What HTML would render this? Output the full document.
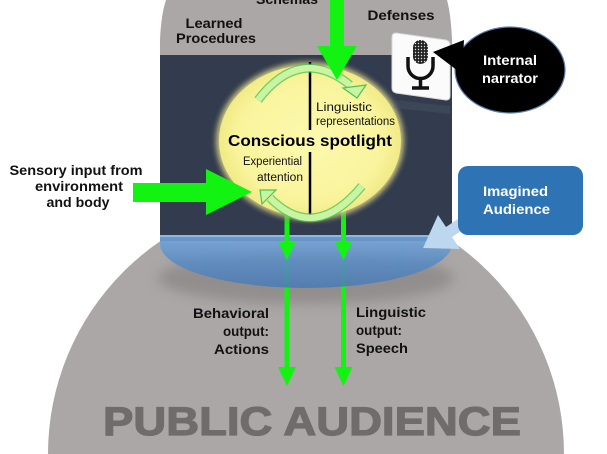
<!DOCTYPE html>
<html><head><meta charset="utf-8"><style>
html,body{margin:0;padding:0;background:#fff;width:607px;height:454px;overflow:hidden}
svg{display:block;overflow:hidden}
text{font-family:"Liberation Sans",Arial,sans-serif}
</style></head><body>
<svg width="607" height="454" viewBox="0 0 607 454" xmlns="http://www.w3.org/2000/svg">
<defs>
<filter id="blur6" x="-10%" y="-30%" width="120%" height="160%"><feGaussianBlur stdDeviation="6"/></filter>
<filter id="blur3" x="-10%" y="-10%" width="120%" height="120%"><feGaussianBlur stdDeviation="3"/></filter>
<linearGradient id="blueg" x1="0" y1="0" x2="0" y2="1">
<stop offset="0" stop-color="#74a6da"/><stop offset="0.5" stop-color="#5a8cc4"/><stop offset="1" stop-color="#4a7bb2"/>
</linearGradient>
<radialGradient id="yel" cx="0.5" cy="0.5" r="0.5">
<stop offset="0" stop-color="#fcf9ae"/><stop offset="0.8" stop-color="#f9f49c"/><stop offset="1" stop-color="#f1ea86"/>
</radialGradient>
<pattern id="dots" width="3" height="3" patternUnits="userSpaceOnUse"><rect width="3" height="3" fill="#222"/><circle cx="1.5" cy="1.5" r="0.7" fill="#ddd"/></pattern>
</defs>

<!-- big public audience circle (clipped at frame bottom) -->
<path d="M48,454 A258,258 0 0 1 564,454 Z" fill="#aba7a6"/>
<!-- shadow under cylinder -->
<ellipse cx="306" cy="278" rx="148" ry="26" fill="#7a7675" opacity="0.5" filter="url(#blur6)"/>

<!-- top gray head -->
<path d="M160,56 L160,40 Q161,15 166,0 L447,0 Q451,15 452,40 L452,56 Z" fill="#aba7a6"/>

<!-- dark navy body -->
<rect x="160" y="55" width="292" height="186" fill="#333c4e"/>

<!-- down arrow shafts (full) -->
<rect x="284.5" y="200" width="5" height="170" fill="#12f312"/>
<rect x="341" y="200" width="5" height="170" fill="#12f312"/>

<!-- blue bottom -->
<path d="M160,236 L452,236 L452,244 A146,44 0 0 1 160,244 Z" fill="url(#blueg)" opacity="0.88"/>
<path d="M160,236 L452,236" stroke="#8ab8e6" stroke-width="2"/>

<!-- first arrowheads -->
<polygon points="278.5,242 295.5,242 287,260" fill="#12f312"/>
<polygon points="335,242 352,242 343.5,260" fill="#12f312"/>
<rect x="284.5" y="200" width="5" height="42" fill="#12f312"/>
<rect x="341" y="200" width="5" height="42" fill="#12f312"/>
<!-- second arrowheads -->
<polygon points="278,367 296,367 287,386" fill="#12f312"/>
<polygon points="334.5,367 352.5,367 343.5,386" fill="#12f312"/>

<!-- yellow spotlight -->
<ellipse cx="310" cy="141" rx="95" ry="80" fill="#20283a" opacity="0.6" filter="url(#blur3)"/>
<ellipse cx="310" cy="141" rx="94" ry="79" fill="#f5f09a" opacity="0.8" filter="url(#blur3)"/>
<ellipse cx="310" cy="141" rx="91" ry="76" fill="url(#yel)"/>

<!-- divider lines -->
<line x1="310" y1="62" x2="310" y2="130" stroke="#000" stroke-width="2.5"/>
<line x1="310" y1="152" x2="310" y2="217" stroke="#000" stroke-width="2.5"/>

<!-- curved arrows -->
<g fill="none" stroke-linecap="butt">
<path d="M258,100 Q300,45 350,85" stroke="#4cc54c" stroke-width="9" opacity="0.8"/>
<path d="M258,100 Q300,45 350,85" stroke="#c8f4a4" stroke-width="6.5"/>
<path d="M362,186 Q315,243 270,198" stroke="#4cc54c" stroke-width="9" opacity="0.8"/>
<path d="M362,186 Q315,243 270,198" stroke="#c8f4a4" stroke-width="6.5"/>
</g>
<polygon points="343,88 366,85 357,98" fill="#c8f4a4" stroke="#4cc54c" stroke-width="1.2"/>
<polygon points="276,190 262,204 260,190" fill="#c8f4a4" stroke="#4cc54c" stroke-width="1.2"/>

<!-- spotlight text -->
<text x="316" y="111" font-size="11.5" fill="#111" textLength="56" lengthAdjust="spacingAndGlyphs">Linguistic</text>
<text x="316" y="125" font-size="11.5" fill="#111" textLength="79" lengthAdjust="spacingAndGlyphs">representations</text>
<text x="310" y="146" font-size="16" font-weight="bold" fill="#000" text-anchor="middle" textLength="164" lengthAdjust="spacingAndGlyphs">Conscious spotlight</text>
<text x="302" y="165" font-size="11.5" fill="#111" text-anchor="end" textLength="59" lengthAdjust="spacingAndGlyphs">Experiential</text>
<text x="303" y="181" font-size="11.5" fill="#111" text-anchor="end" textLength="46" lengthAdjust="spacingAndGlyphs">attention</text>

<!-- big top green arrow -->
<polygon points="330,0 344,0 344,46 357,46 337,80 317,46 330,46" fill="#12f312"/>
<!-- big left green arrow -->
<polygon points="133,183 206,183 206,169 252,192 206,215 206,202 133,202" fill="#12f312"/>

<!-- top labels -->
<text x="287" y="4" font-size="14" font-weight="bold" fill="#111" text-anchor="middle" textLength="62" lengthAdjust="spacingAndGlyphs">Schemas</text>
<text x="214" y="28" font-size="14" font-weight="bold" fill="#111" text-anchor="middle" textLength="57" lengthAdjust="spacingAndGlyphs">Learned</text>
<text x="216" y="43" font-size="14" font-weight="bold" fill="#111" text-anchor="middle" textLength="80" lengthAdjust="spacingAndGlyphs">Procedures</text>
<text x="401" y="20" font-size="14" font-weight="bold" fill="#111" text-anchor="middle" textLength="67" lengthAdjust="spacingAndGlyphs">Defenses</text>

<!-- mic card -->
<polygon points="394,100 450,106 450,114 394,108" fill="#5a6272" opacity="0.25"/>
<path d="M396,33 L446,40 Q450,41 450,45 L450,96 Q450,100 446,100 L396,93 Q392,92 392,88 L392,37 Q392,33 396,33 Z" fill="#fbfbfb" stroke="#d8d8d8" stroke-width="1"/>
<rect x="413" y="40" width="15" height="24" rx="7.5" fill="url(#dots)"/>
<path d="M408,57 L408,66 A12.5,12.5 0 0 0 433,66 L433,57" fill="none" stroke="#111" stroke-width="3.5"/>
<line x1="420.5" y1="78" x2="420.5" y2="87" stroke="#111" stroke-width="3.5"/>
<line x1="412" y1="88" x2="429" y2="88" stroke="#111" stroke-width="3.5"/>

<!-- speech bubble -->
<ellipse cx="510" cy="70" rx="55" ry="43" fill="#000" stroke="#5b7fb0" stroke-width="1.2"/>
<polygon points="433,52 464,40 462,74" fill="#000"/>
<text x="510" y="65" font-size="14" font-weight="bold" fill="#fff" text-anchor="middle" textLength="54" lengthAdjust="spacingAndGlyphs">Internal</text>
<text x="510" y="83" font-size="14" font-weight="bold" fill="#fff" text-anchor="middle" textLength="56" lengthAdjust="spacingAndGlyphs">narrator</text>

<!-- sensory label -->
<text x="76" y="175" font-size="14" font-weight="bold" fill="#111" text-anchor="middle" textLength="133" lengthAdjust="spacingAndGlyphs">Sensory input from</text>
<text x="79" y="191" font-size="14" font-weight="bold" fill="#111" text-anchor="middle" textLength="88" lengthAdjust="spacingAndGlyphs">environment</text>
<text x="78" y="207" font-size="14" font-weight="bold" fill="#111" text-anchor="middle" textLength="63" lengthAdjust="spacingAndGlyphs">and body</text>

<!-- imagined audience -->
<polygon points="423,248 460,249 452,237 473,223 467,213 446,227 438,215" fill="#bdd7ee"/>
<rect x="458" y="166" width="125" height="69" rx="10" fill="#2e74b5"/>
<text x="483" y="196" font-size="14" font-weight="bold" fill="#fff" textLength="65" lengthAdjust="spacingAndGlyphs">Imagined</text>
<text x="483" y="214" font-size="14" font-weight="bold" fill="#fff" textLength="67" lengthAdjust="spacingAndGlyphs">Audience</text>

<!-- output labels -->
<text x="269" y="318" font-size="14" font-weight="bold" fill="#111" text-anchor="end" textLength="76" lengthAdjust="spacingAndGlyphs">Behavioral</text>
<text x="269" y="336" font-size="14" font-weight="bold" fill="#111" text-anchor="end" textLength="46" lengthAdjust="spacingAndGlyphs">output:</text>
<text x="269" y="354" font-size="14" font-weight="bold" fill="#111" text-anchor="end" textLength="55" lengthAdjust="spacingAndGlyphs">Actions</text>
<text x="356" y="317" font-size="14" font-weight="bold" fill="#111" textLength="70" lengthAdjust="spacingAndGlyphs">Linguistic</text>
<text x="356" y="335" font-size="14" font-weight="bold" fill="#111" textLength="46" lengthAdjust="spacingAndGlyphs">output:</text>
<text x="356" y="353" font-size="14" font-weight="bold" fill="#111" textLength="52" lengthAdjust="spacingAndGlyphs">Speech</text>

<!-- public audience -->
<text x="103" y="435" font-size="40" font-weight="bold" fill="#706c6c" stroke="#706c6c" stroke-width="1.2" textLength="418" lengthAdjust="spacingAndGlyphs">PUBLIC AUDIENCE</text>
</svg>
</body></html>
